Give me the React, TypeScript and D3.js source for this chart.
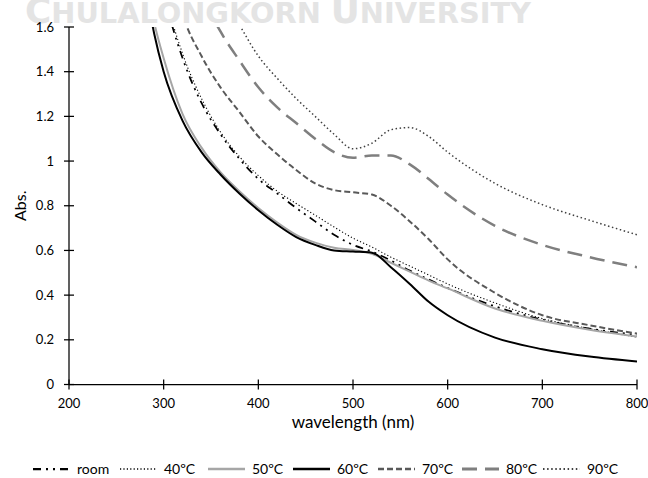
import React from "react";
import * as d3 from "d3";

const wavelengths = [280, 290, 300, 320, 340, 360, 380, 400, 420, 440, 460, 480, 500, 520, 540, 560, 580, 600, 650, 700, 750, 800];

const room = [2.2, 1.95, 1.75, 1.46, 1.26, 1.12, 1.01, 0.92, 0.855, 0.79, 0.73, 0.67, 0.625, 0.595, 0.555, 0.51, 0.47, 0.432, 0.35, 0.29, 0.25, 0.222];
const c40 = [2.2, 1.97, 1.77, 1.48, 1.28, 1.13, 1.02, 0.935, 0.865, 0.81, 0.758, 0.705, 0.655, 0.615, 0.57, 0.53, 0.49, 0.45, 0.365, 0.295, 0.25, 0.212];
const c50 = [1.84, 1.62, 1.46, 1.21, 1.06, 0.95, 0.865, 0.79, 0.725, 0.67, 0.635, 0.612, 0.602, 0.585, 0.545, 0.505, 0.465, 0.43, 0.34, 0.285, 0.245, 0.215];
const c60 = [1.8, 1.57, 1.40, 1.18, 1.04, 0.94, 0.855, 0.78, 0.715, 0.66, 0.625, 0.60, 0.595, 0.59, 0.525, 0.45, 0.37, 0.31, 0.21, 0.158, 0.125, 0.103];
const c70 = [2.5, 2.25, 2.05, 1.66, 1.47, 1.33, 1.22, 1.11, 1.03, 0.96, 0.9, 0.87, 0.86, 0.85, 0.8, 0.73, 0.65, 0.56, 0.41, 0.31, 0.265, 0.228];
const c80 = [2.8, 2.6, 2.4, 2.05, 1.75, 1.58, 1.45, 1.33, 1.24, 1.17, 1.1, 1.04, 1.015, 1.025, 1.025, 0.985, 0.92, 0.85, 0.71, 0.625, 0.57, 0.525];
const c90 = [3.1, 2.9, 2.7, 2.3, 1.98, 1.76, 1.61, 1.47, 1.37, 1.28, 1.2, 1.12, 1.055, 1.08, 1.14, 1.15, 1.11, 1.04, 0.9, 0.805, 0.735, 0.67];

const seriesNames = ["room", "40ºC", "50ºC", "60ºC", "70ºC", "80ºC", "90ºC"];
const seriesValues = [room, c40, c50, c60, c70, c80, c90];

const xTicks = [200, 300, 400, 500, 600, 700, 800];
const yTicks = [0, 0.2, 0.4, 0.6, 0.8, 1, 1.2, 1.4, 1.6];

const styles = [
  { stroke: "#000000", width: 1.75, dash: "8,5,2,5,2,5" },
  { stroke: "#000000", width: 1.1, dash: "1.2,2.2" },
  { stroke: "#a6a6a6", width: 2, dash: "" },
  { stroke: "#000000", width: 2, dash: "" },
  { stroke: "#595959", width: 2, dash: "6,3" },
  { stroke: "#7f7f7f", width: 2.5, dash: "15,8" },
  { stroke: "#404040", width: 1.5, dash: "1.5,2.6" },
];

const legendX = [33, 120, 208, 293, 378, 462, 543];

export default function App() {
  const W = 648, H = 478;
  const left = 69, right = 637, top = 27, bottom = 384.5;
  const x = d3.scaleLinear().domain([200, 800]).range([left, right]);
  const y = d3.scaleLinear().domain([0, 1.6]).range([bottom, top]);
  const line = d3
    .line<number>()
    .x((_, i) => x(wavelengths[i]))
    .y((d) => y(d))
    .curve(d3.curveMonotoneX);
  const font = "Lato, 'Open Sans', sans-serif";
  return (
    <svg width={W} height={H} style={{ position: "absolute", left: 0, top: 0 }} fontFamily={font}>
      <rect width={W} height={H} fill="#fff" />
      <g fill="#e4e4e4" fontFamily="'DejaVu Sans Condensed', 'DejaVu Sans', sans-serif" fontWeight="bold">
        <text x={25} y={23} textLength={506} lengthAdjust="spacingAndGlyphs">
          <tspan fontSize={36}>C</tspan>
          <tspan fontSize={29}>HULALONGKORN </tspan>
          <tspan fontSize={36}>U</tspan>
          <tspan fontSize={29}>NIVERSITY</tspan>
        </text>
      </g>
      <defs>
        <clipPath id="plot">
          <rect x={left} y={top} width={right - left} height={bottom - top} />
        </clipPath>
      </defs>
      <g clipPath="url(#plot)">
        {seriesValues.map((vals, i) => (
          <path
            key={seriesNames[i]}
            d={line(vals) || ""}
            fill="none"
            stroke={styles[i].stroke}
            strokeWidth={styles[i].width}
            strokeDasharray={styles[i].dash || undefined}
          />
        ))}
      </g>
      <g stroke="#000" strokeWidth={1.25}>
        <line x1={left} x2={left} y1={top} y2={bottom} />
        <line x1={left} x2={right} y1={bottom} y2={bottom} />
        {yTicks.map((t) => (
          <line key={t} x1={left - 5} x2={left + 5} y1={y(t)} y2={y(t)} />
        ))}
        {xTicks.map((t) => (
          <line key={t} x1={x(t)} x2={x(t)} y1={bottom - 5} y2={bottom + 5} />
        ))}
      </g>
      <g fontSize={13} fill="#000">
        {yTicks.map((t) => (
          <text key={t} x={54} y={y(t) + 4.5} textAnchor="end">
            {String(t)}
          </text>
        ))}
        {xTicks.map((t) => (
          <text key={t} x={x(t)} y={408} textAnchor="middle">
            {t}
          </text>
        ))}
      </g>
      <text x={(left + right) / 2} y={428} textAnchor="middle" fontSize={17}>
        wavelength (nm)
      </text>
      <text transform={`translate(26,${y(0.8)}) rotate(-90)`} textAnchor="middle" fontSize={16}>
        Abs.
      </text>
      <g>
        {seriesNames.map((n, i) => (
          <g key={n}>
            <line
              x1={legendX[i]}
              x2={legendX[i] + 37}
              y1={469}
              y2={469}
              stroke={styles[i].stroke}
              strokeWidth={styles[i].width + 0.5}
              strokeDasharray={styles[i].dash || undefined}
            />
            <text x={legendX[i] + 44} y={474} fontSize={14}>
              {n}
            </text>
          </g>
        ))}
      </g>
    </svg>
  );
}
